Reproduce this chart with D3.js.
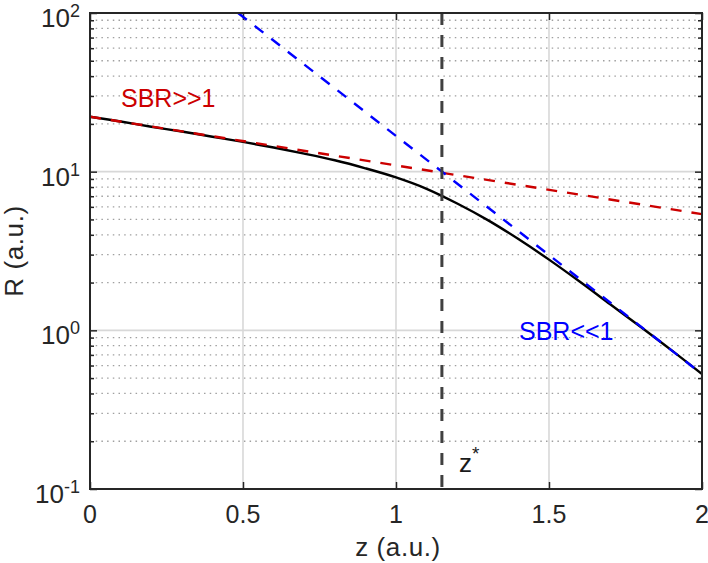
<!DOCTYPE html>
<html>
<head>
<meta charset="utf-8">
<script src="https://cdn.jsdelivr.net/npm/d3@7"></script>
<style>
  body { margin: 0; background: #fff; }
  svg { display: block; font-family: "Liberation Sans", Arial, sans-serif; }
</style>
</head>
<body>
<div id="chart-area"></div>
<script>
// values
const zValues = [0, 0.1, 0.2, 0.3, 0.4, 0.5, 0.6, 0.7, 0.8, 0.9, 1.0,
                 1.1, 1.2, 1.3, 1.4, 1.5, 1.6, 1.7, 1.8, 1.9, 2.0];
const rTotal = [22.2, 20.7, 19.2, 17.9, 16.6, 15.4, 14.2, 13.0, 11.8, 10.5, 9.2,
                7.8, 6.3, 4.95, 3.76, 2.79, 2.03, 1.46, 1.05, 0.75, 0.53];
const sbrHighZ = [0, 2];
const sbrHighR = [22.2, 5.4];
const sbrLowZ = [0.484, 2];
const sbrLowR = [100, 0.53];
const zStar = 1.15;
const xTicks = [0, 0.5, 1, 1.5, 2];
const yTicks = [0.1, 1, 10, 100];
const yExponents = ["-1", "0", "1", "2"];

const chartSize = {width: 708, height: 563};
const plot = {left: 90, right: 702, top: 13, bottom: 489};

const x = d3.scaleLinear().domain([0, 2]).range([plot.left, plot.right]);
const y = d3.scaleLog().domain([0.1, 100]).range([plot.bottom, plot.top]);

const svg = d3.select("#chart-area")
    .append("svg")
    .attr("width", chartSize.width)
    .attr("height", chartSize.height);

svg.append("defs").append("clipPath").attr("id", "clip")
    .append("rect")
    .attr("x", plot.left).attr("y", plot.top)
    .attr("width", plot.right - plot.left)
    .attr("height", plot.bottom - plot.top);

// minor y values (2..9 per decade)
const minorY = [];
[0.1, 1, 10].forEach(d => { for (let k = 2; k <= 9; k++) minorY.push(d * k); });

const grid = svg.append("g");
grid.selectAll(".minor").data(minorY).enter().append("line")
    .attr("x1", plot.left).attr("x2", plot.right)
    .attr("y1", d => y(d)).attr("y2", d => y(d))
    .attr("stroke", "#a0a0a0").attr("stroke-width", 1.3)
    .attr("stroke-dasharray", "1.5,4.2");
grid.selectAll(".majorY").data([1, 10]).enter().append("line")
    .attr("x1", plot.left).attr("x2", plot.right)
    .attr("y1", d => y(d)).attr("y2", d => y(d))
    .attr("stroke", "#d8d8d8").attr("stroke-width", 1.6);
grid.selectAll(".majorX").data([0.5, 1, 1.5]).enter().append("line")
    .attr("y1", plot.top).attr("y2", plot.bottom)
    .attr("x1", d => x(d)).attr("x2", d => x(d))
    .attr("stroke", "#d8d8d8").attr("stroke-width", 1.6);

// axes with inward ticks, box on
const axisColor = "#262626";
const yAxisL = d3.axisLeft(y).tickValues(yTicks).tickSizeInner(-7).tickSizeOuter(0).tickFormat("");
const yAxisR = d3.axisRight(y).tickValues(yTicks).tickSizeInner(-7).tickSizeOuter(0).tickFormat("");
const yMinorL = d3.axisLeft(y).tickValues(minorY).tickSizeInner(-4).tickSizeOuter(0).tickFormat("");
const yMinorR = d3.axisRight(y).tickValues(minorY).tickSizeInner(-4).tickSizeOuter(0).tickFormat("");
const xAxisB = d3.axisBottom(x).tickValues(xTicks).tickSizeInner(-7).tickSizeOuter(0).tickFormat("");
const xAxisT = d3.axisTop(x).tickValues(xTicks).tickSizeInner(-7).tickSizeOuter(0).tickFormat("");

const axes = svg.append("g");
axes.append("g").attr("transform", `translate(${plot.left},0)`).call(yAxisL);
axes.append("g").attr("transform", `translate(${plot.left},0)`).call(yMinorL);
axes.append("g").attr("transform", `translate(${plot.right},0)`).call(yAxisR);
axes.append("g").attr("transform", `translate(${plot.right},0)`).call(yMinorR);
axes.append("g").attr("transform", `translate(0,${plot.bottom})`).call(xAxisB);
axes.append("g").attr("transform", `translate(0,${plot.top})`).call(xAxisT);
axes.selectAll(".domain").remove();
axes.selectAll(".tick line").attr("stroke", axisColor).attr("stroke-width", 1.5);

// curves
const line = d3.line()
    .x(d => x(d[0]))
    .y(d => y(d[1]));

const curves = svg.append("g").attr("clip-path", "url(#clip)");

curves.append("path")
    .datum(d3.zip(zValues, rTotal))
    .attr("d", line.curve(d3.curveCatmullRom))
    .attr("fill", "none")
    .attr("stroke", "#000")
    .attr("stroke-width", 2.4);

curves.append("path")
    .datum(d3.zip(sbrHighZ, sbrHighR))
    .attr("d", line.curve(d3.curveLinear))
    .attr("fill", "none")
    .attr("stroke", "#cc0000")
    .attr("stroke-width", 2.4)
    .attr("stroke-dasharray", "11,10");

curves.append("path")
    .datum(d3.zip(sbrLowZ, sbrLowR))
    .attr("d", line.curve(d3.curveLinear))
    .attr("fill", "none")
    .attr("stroke", "#0000ff")
    .attr("stroke-width", 2.4)
    .attr("stroke-dasharray", "11,10");

curves.append("line")
    .attr("x1", x(zStar)).attr("x2", x(zStar))
    .attr("y1", y(100)).attr("y2", y(0.1))
    .attr("stroke", "#404040")
    .attr("stroke-width", 3)
    .attr("stroke-dasharray", "12,10");

// box
svg.append("rect")
    .attr("x", plot.left).attr("y", plot.top)
    .attr("width", plot.right - plot.left)
    .attr("height", plot.bottom - plot.top)
    .attr("fill", "none")
    .attr("stroke", axisColor)
    .attr("stroke-width", 2);

// tick labels
const labels = svg.append("g").attr("fill", axisColor);

labels.selectAll(".xl").data(xTicks).enter().append("text")
    .attr("x", d => x(d))
    .attr("y", 523)
    .attr("text-anchor", "middle")
    .attr("font-size", 25)
    .text(d => d);

yTicks.forEach((t, i) => {
    const txt = labels.append("text")
        .attr("x", 80)
        .attr("y", y(t) + 14)
        .attr("text-anchor", "end")
        .attr("font-size", 26);
    txt.append("tspan").text("10");
    txt.append("tspan").attr("dy", -10).attr("font-size", 18).text(yExponents[i]);
});

// axis labels
svg.append("text")
    .attr("x", 398).attr("y", 556)
    .attr("text-anchor", "middle")
    .attr("font-size", 26)
    .attr("letter-spacing", 0.6)
    .attr("fill", axisColor)
    .text("z (a.u.)");

svg.append("text")
    .attr("transform", `translate(23,${(plot.top + plot.bottom) / 2}) rotate(-90)`)
    .attr("text-anchor", "middle")
    .attr("font-size", 26)
    .attr("letter-spacing", 0.6)
    .attr("fill", axisColor)
    .text("R (a.u.)");

// annotations
svg.append("text")
    .attr("x", 121).attr("y", 107)
    .attr("font-size", 25)
    .attr("fill", "#cc0000")
    .text("SBR>>1");

svg.append("text")
    .attr("x", 519).attr("y", 340)
    .attr("font-size", 25)
    .attr("fill", "#0000ff")
    .text("SBR<<1");

const zs = svg.append("text")
    .attr("x", 459).attr("y", 472)
    .attr("font-size", 26)
    .attr("fill", "#1a1a1a");
zs.append("tspan").text("z");
zs.append("tspan").attr("dy", -12).attr("font-size", 19).text("*");
</script>
</body>
</html>
